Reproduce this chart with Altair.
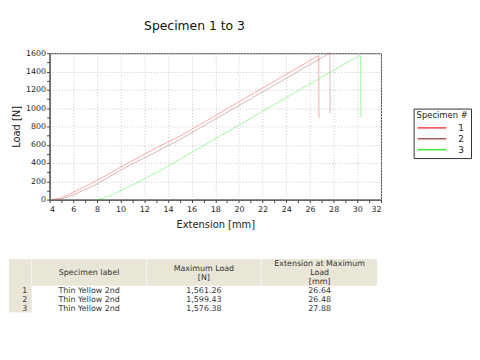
import altair as alt
import pandas as pd

FONT = "DejaVu Sans"

# ---- curve data ----
ext1 = [4.2, 5, 6, 7, 8, 9, 10, 11, 12, 13, 14, 14.95, 16, 18, 20, 22, 24, 26, 26.66, 26.74, 26.76]
load1 = [0, 20, 80, 145, 210, 280, 355, 425, 495, 565, 630, 688, 767, 918, 1069, 1220, 1370, 1521, 1571, 1571, 895]

ext2 = [4.6, 5, 6, 7, 8, 9, 10, 11, 12, 13, 14, 14.95, 16, 18, 20, 22, 24, 26, 27.64, 27.69, 27.71]
load2 = [0, 8, 50, 110, 170, 245, 320, 390, 455, 520, 590, 652, 730, 879, 1028, 1177, 1326, 1475, 1597, 1597, 940]

ext3 = [8.0, 9, 10, 11, 12, 13, 14, 14.95, 16, 18, 20, 22, 24, 26, 28, 30, 30.15, 30.28, 30.3]
load3 = [0, 35, 95, 160, 225, 295, 365, 436, 515, 665, 815, 965, 1115, 1265, 1415, 1560, 1572, 1572, 900]

specimens = ["1", "2", "3"]
colors = ["#ff4040", "#b05a5a", "#33ee33"]

# ---- table data ----
spec_labels = ["Thin Yellow 2nd", "Thin Yellow 2nd", "Thin Yellow 2nd"]
max_loads = ["1,561.26", "1,599.43", "1,576.38"]
ext_at_max = ["26.64", "26.48", "27.88"]
headers = ["", "Specimen label", "Maximum Load\n[N]", "Extension at Maximum\nLoad\n[mm]"]

x_ticks = list(range(4, 33))
y_ticks = list(range(0, 1601, 100))

rows = []
for s, xs_, ys_ in zip(specimens, [ext1, ext2, ext3], [load1, load2, load3]):
    for i, (a, b) in enumerate(zip(xs_, ys_)):
        rows.append({"spec": s, "ext": a, "load": b, "idx": i})
df = pd.DataFrame(rows)

axis_common = dict(
    labelFont=FONT, labelFontSize=8, labelColor="#222",
    titleFont=FONT, titleFontSize=10, titleFontWeight="normal", titleColor="#222",
    domainColor="#444", tickColor="#444", tickSize=3,
    gridColor="#c8c8c8", gridDash=[1, 2],
)

plot = alt.Chart(df).mark_line(strokeWidth=1, opacity=0.45).encode(
    x=alt.X("ext:Q", scale=alt.Scale(domain=[4, 32], nice=False, zero=False),
            axis=alt.Axis(values=x_ticks, title="Extension [mm]",
                          labelExpr="datum.value % 2 == 0 ? datum.label : ''",
                          gridOpacity={"condition": {"test": "datum.value % 2 == 0", "value": 1}, "value": 0},
                          labelPadding=3, titlePadding=6, **axis_common)),
    y=alt.Y("load:Q", scale=alt.Scale(domain=[0, 1600], nice=False),
            axis=alt.Axis(values=y_ticks, title="Load [N]",
                          labelExpr="datum.value % 200 == 0 ? datum.label : ''",
                          gridOpacity={"condition": {"test": "datum.value % 200 == 0", "value": 1}, "value": 0},
                          format="d", labelPadding=1, titlePadding=4, **axis_common)),
    color=alt.Color("spec:N", scale=alt.Scale(domain=specimens, range=colors),
                    legend=alt.Legend(title="Specimen #", orient="none", legendX=368, legendY=56,
                                      titleFont=FONT, titleFontSize=8.5, titleFontWeight="normal",
                                      titleColor="#222",
                                      labelFont=FONT, labelFontSize=9, labelColor="#222",
                                      symbolType="M-1,0H4.8", symbolSize=100, symbolStrokeWidth=1.5,
                                      symbolOpacity=1, labelOffset=30, rowPadding=0,
                                      strokeColor="#333", fillColor="white", padding=3,
                                      titlePadding=2)),
    order="idx:Q",
).properties(
    width=335, height=148,
    view=alt.ViewBackground(stroke="#444", strokeWidth=1),
    title=alt.TitleParams("Specimen 1 to 3", font=FONT, fontSize=12.5, fontWeight="normal",
                          color="#111", anchor="middle", dx=-21, offset=17),
)

# ---- table (x in page-like layout units, 0 = left edge of the picture) ----
col_edges = [8, 31, 147, 263, 380]
col_centers = [24, 89, 205, 322]
ROW_UNIT = 9.0
LINE_H = 9.0
tab_rows = []
for r in range(3):
    vals = [str(r + 1), spec_labels[r], max_loads[r], ext_at_max[r]]
    for c, v in enumerate(vals):
        tab_rows.append({"x": col_centers[c], "y": 3.6 + r, "t": v})
tab_df = pd.DataFrame(tab_rows)
hdr_rows = []
for c, h in enumerate(headers):
    if h:
        n = h.count("\n") + 1
        hdr_rows.append({"x": col_centers[c], "y": 1.6 - (n - 1) * LINE_H / ROW_UNIT / 2, "t": h})
hdr_df = pd.DataFrame(hdr_rows)

xs = alt.Scale(domain=[0, 380], range=[-49, 331])
ys = alt.Scale(domain=[0, 6], reverse=True)

bg = pd.DataFrame([
    {"x": col_edges[0], "x2": col_edges[4], "y": 0, "y2": 3},
    {"x": col_edges[0], "x2": col_edges[1], "y": 3, "y2": 6},
])
bg_layer = alt.Chart(bg).mark_rect(color="#e9e6d8").encode(
    x=alt.X("x:Q", scale=xs, axis=None), x2="x2:Q",
    y=alt.Y("y:Q", scale=ys, axis=None), y2="y2:Q")

div = pd.DataFrame([{"x": col_edges[i], "y": 0, "y2": 3} for i in (1, 2, 3)])
div_layer = alt.Chart(div).mark_rule(color="#f6f5ee", strokeWidth=1).encode(
    x=alt.X("x:Q", scale=xs, axis=None), y=alt.Y("y:Q", scale=ys, axis=None), y2="y2:Q")

hdr_layer = alt.Chart(hdr_df).mark_text(font=FONT, fontSize=8, color="#333", lineBreak="\n",
                                        baseline="middle", lineHeight=LINE_H).encode(
    x=alt.X("x:Q", scale=xs, axis=None), y=alt.Y("y:Q", scale=ys, axis=None), text="t:N")

txt_layer = alt.Chart(tab_df).mark_text(font=FONT, fontSize=8, color="#333", baseline="middle").encode(
    x=alt.X("x:Q", scale=xs, axis=None), y=alt.Y("y:Q", scale=ys, axis=None), text="t:N")

table = alt.layer(bg_layer, div_layer, hdr_layer, txt_layer).properties(
    width=335, height=54, view=alt.ViewBackground(stroke="transparent"))

chart = alt.vconcat(plot, table, spacing=28).properties(
    padding={"left": 0, "top": 10, "right": 0, "bottom": 5}
)

chart.save("out.html", embed_options={"renderer": "svg", "actions": False})
